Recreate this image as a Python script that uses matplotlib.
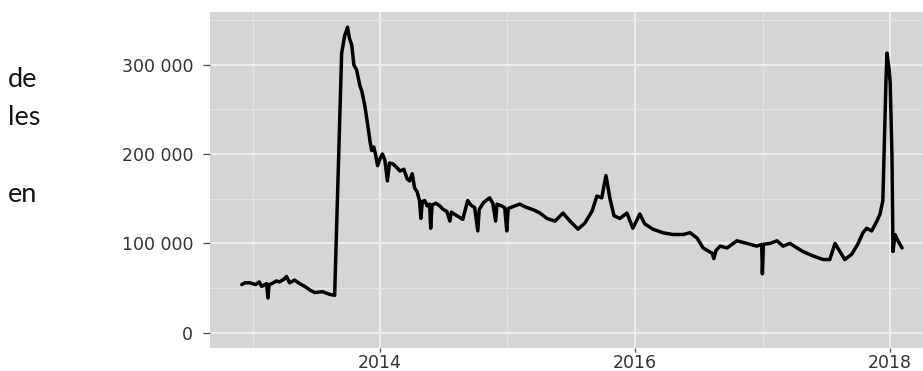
import matplotlib
matplotlib.use("Agg")
import matplotlib.pyplot as plt
import matplotlib.dates as mdates
from matplotlib.ticker import FuncFormatter, MultipleLocator
import pandas as pd

# ---- data ----
dates = [
    "2012-12-01", "2012-12-10", "2012-12-23", "2013-01-10", "2013-01-20", "2013-01-27",
    "2013-02-10", "2013-02-14", "2013-02-17", "2013-02-25", "2013-03-10", "2013-03-19",
    "2013-04-01", "2013-04-08", "2013-04-17", "2013-05-01", "2013-05-16", "2013-05-30",
    "2013-06-14", "2013-06-28", "2013-07-20", "2013-08-10", "2013-08-24", "2013-09-13",
    "2013-09-22", "2013-09-30", "2013-10-05", "2013-10-12", "2013-10-18", "2013-10-26",
    "2013-11-04", "2013-11-10", "2013-11-18", "2013-11-27", "2013-12-03", "2013-12-08",
    "2013-12-14", "2013-12-20", "2013-12-25", "2014-01-01", "2014-01-08", "2014-01-15",
    "2014-01-22", "2014-01-28", "2014-02-07", "2014-02-18", "2014-02-27", "2014-03-10",
    "2014-03-20", "2014-03-27", "2014-04-03", "2014-04-10", "2014-04-17", "2014-04-24",
    "2014-04-28", "2014-05-02", "2014-05-09", "2014-05-16", "2014-05-23", "2014-05-26",
    "2014-05-30", "2014-06-10", "2014-06-21", "2014-07-01", "2014-07-11", "2014-07-20",
    "2014-07-24", "2014-08-09", "2014-08-26", "2014-09-09", "2014-09-18", "2014-09-29",
    "2014-10-08", "2014-10-12", "2014-10-25", "2014-11-11", "2014-11-20", "2014-11-28",
    "2014-12-02", "2014-12-15", "2014-12-24", "2014-12-30", "2015-01-03", "2015-01-22",
    "2015-02-05", "2015-02-20", "2015-03-06", "2015-03-20", "2015-04-04", "2015-04-24",
    "2015-05-17", "2015-06-09", "2015-06-29", "2015-07-22", "2015-08-11", "2015-08-31",
    "2015-09-14", "2015-09-28", "2015-10-10", "2015-10-15", "2015-10-21", "2015-11-02",
    "2015-11-19", "2015-12-09", "2015-12-26", "2016-01-15", "2016-01-29", "2016-02-21",
    "2016-03-21", "2016-04-19", "2016-05-18", "2016-06-07", "2016-06-27", "2016-07-14",
    "2016-08-09", "2016-08-14", "2016-08-20", "2016-09-01", "2016-09-21", "2016-10-19",
    "2016-11-17", "2016-12-15", "2016-12-29", "2016-12-31", "2017-01-03", "2017-01-22",
    "2017-02-11", "2017-02-28", "2017-03-20", "2017-04-09", "2017-04-26", "2017-05-25",
    "2017-06-23", "2017-07-12", "2017-07-27", "2017-08-10", "2017-08-24", "2017-09-13",
    "2017-09-30", "2017-10-15", "2017-10-26", "2017-11-09", "2017-11-24", "2017-12-03",
    "2017-12-11", "2017-12-17", "2017-12-20", "2017-12-23", "2017-12-29", "2018-01-01",
    "2018-01-06", "2018-01-09", "2018-01-15", "2018-01-23", "2018-02-04",
]
values = [
    54000, 56000, 56000, 54000, 57000, 52000,
    55000, 39000, 54000, 55000, 58000, 57000,
    60000, 63000, 56000, 59000, 55000, 52000,
    48000, 45000, 46000, 43000, 42000, 313000,
    333000, 342000, 330000, 322000, 300000, 294000,
    277000, 270000, 255000, 232000, 215000, 204000,
    208000, 198000, 187000, 195000, 200000, 193000,
    170000, 190000, 189000, 185000, 181000, 183000,
    172000, 170000, 178000, 162000, 158000, 148000,
    128000, 147000, 148000, 142000, 144000, 117000,
    143000, 145000, 142000, 138000, 136000, 125000,
    135000, 131000, 127000, 148000, 143000, 140000,
    114000, 138000, 146000, 151000, 145000, 125000,
    144000, 142000, 140000, 114000, 139000, 142000,
    144000, 141000, 139000, 137000, 134000, 128000,
    125000, 134000, 125000, 116000, 123000, 136000,
    153000, 151000, 176000, 165000, 151000, 131000,
    128000, 134000, 117000, 133000, 122000, 116000,
    112000, 110000, 110000, 112000, 106000, 95000,
    89000, 83000, 92000, 97000, 95000, 103000,
    100000, 97000, 99000, 66000, 99000, 100000,
    103000, 97000, 100000, 95000, 91000, 86000,
    82000, 82000, 100000, 91000, 82000, 88000,
    99000, 112000, 117000, 114000, 125000, 133000,
    148000, 238000, 283000, 313000, 294000, 280000,
    200000, 91000, 110000, 103000, 95000,
]
y_ticks = [0, 100000, 200000, 300000]
side_words = ["de", "les", "en"]

# ---- figure ----
W, H = 923, 371
fig = plt.figure(figsize=(W / 100, H / 100), dpi=100)
fig.patch.set_facecolor("white")

ax = fig.add_axes([210 / W, 1 - 348 / H, (W - 210) / W, (348 - 12) / H])
ax.set_facecolor("#D5D5D5")
for s in ax.spines.values():
    s.set_visible(False)

x = pd.to_datetime(dates)
ax.plot(x, values, color="black", lw=2.5, solid_joinstyle="round",
        solid_capstyle="round", zorder=3)

ax.set_xlim(pd.Timestamp("2012-09-01"), pd.Timestamp("2018-04-05"))
ax.set_ylim(-17000, 359000)

ax.yaxis.set_major_locator(plt.FixedLocator(y_ticks))
ax.yaxis.set_minor_locator(MultipleLocator(50000))
ax.yaxis.set_major_formatter(FuncFormatter(lambda v, p: f"{int(v):,}".replace(",", " ")))

ax.xaxis.set_major_locator(mdates.YearLocator(2))
ax.xaxis.set_minor_locator(mdates.YearLocator(1))
ax.xaxis.set_major_formatter(mdates.DateFormatter("%Y"))

ax.grid(which="major", color="#EEEEEE", lw=1.4, zorder=0)
ax.grid(which="minor", color="#E4E4E4", lw=0.8, zorder=0)
ax.set_axisbelow(True)

ax.tick_params(axis="y", which="major", length=5, width=1.0, color="#555555",
               pad=7, labelsize=12.5, labelcolor="#333333")
ax.tick_params(axis="x", which="major", length=3, width=1.0, color="#555555",
               pad=1.5, labelsize=12.5, labelcolor="#333333")
ax.tick_params(which="minor", length=0)
for lab in ax.get_xticklabels() + ax.get_yticklabels():
    lab.set_fontfamily("DejaVu Sans")

# side text from the surrounding document
baselines = [87, 125, 202]
for w, b in zip(side_words, baselines):
    fig.text(8 / W, 1 - b / H, w, family="Lato", fontsize=19.5, color="#151515",
             ha="left", va="baseline")

fig.savefig("out.png", dpi=100, facecolor="white")
